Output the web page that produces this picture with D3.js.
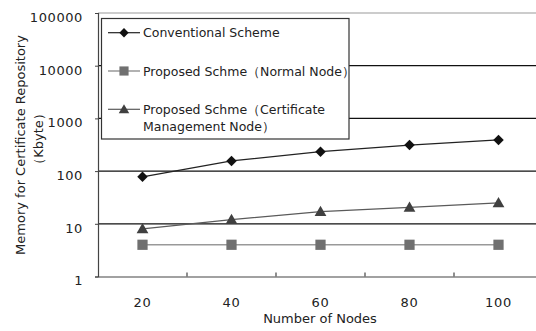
<!DOCTYPE html>
<html><head><meta charset="utf-8">
<script src="https://cdn.jsdelivr.net/npm/d3@7"></script>
<style>body{margin:0;background:#fff}svg{display:block}text{font-family:"DejaVu Sans",sans-serif;fill:#222}</style>
</head><body><svg id="c" width="536" height="331"></svg>
<script>
const categories = [20, 40, 60, 80, 100];
const conventional = [78, 156, 234, 312, 390];
const normalNode = [4, 4, 4, 4, 4];
const certNode = [8, 12, 17, 20.5, 25];
const yTicks = [1, 10, 100, 1000, 10000, 100000];
const seriesNames = ["Conventional Scheme", "Proposed Schme（Normal Node）", ["Proposed Schme（Certificate", "Management Node）"]];
const xTitle = "Number of Nodes";
const yTitle = ["Memory for Certificate Repository", "（Kbyte）"];

const svg = d3.select("#c");
const L = 98, T = 13, B = 276.5, band = 89;
const x = d3.scaleBand().domain(categories).range([L, L + band * categories.length]).padding(0);
const y = d3.scaleLog().domain([1, 100000]).range([B, T]);

// gridlines
svg.append("g").selectAll("line").data(yTicks.slice(1)).join("line")
  .attr("x1", L).attr("x2", x.range()[1])
  .attr("y1", d => y(d)).attr("y2", d => y(d))
  .attr("stroke", d => d === 100000 ? "#999" : "#111").attr("stroke-width", 1.2);

// y axis
const ya = svg.append("g").attr("transform", `translate(${L},0)`)
  .call(d3.axisLeft(y).tickValues(yTicks).tickFormat(d3.format("d")).tickSize(3).tickPadding(12));
ya.select(".domain").attr("stroke", "#444").attr("stroke-width", 1.2);
ya.selectAll(".tick line").attr("stroke", "#444");
ya.selectAll("text").attr("font-size", "13px").attr("letter-spacing", "0.6px").attr("fill", "#222")
  .attr("font-family", "DejaVu Sans").attr("dy", "0.65em");

// x axis
const xa = svg.append("g").attr("transform", `translate(0,${B})`)
  .call(d3.axisBottom(x).tickSize(0).tickPadding(21));
xa.select(".domain").attr("stroke", "#444").attr("stroke-width", 1.2);
xa.selectAll("text").attr("font-size", "13px").attr("letter-spacing", "0.8px").attr("fill", "#222").attr("font-family", "DejaVu Sans");
// inward ticks at band boundaries
svg.append("g").selectAll("line").data(categories.slice(1)).join("line")
  .attr("x1", d => x(d)).attr("x2", d => x(d)).attr("y1", B).attr("y2", B - 4)
  .attr("stroke", "#444").attr("stroke-width", 1.2);

// titles
svg.append("text").attr("x", 320).attr("y", 323).attr("text-anchor", "middle").attr("font-size", "13px").text(xTitle);
svg.append("text").attr("transform", "translate(25,145) rotate(-90)").attr("text-anchor", "middle").attr("font-size", "13px").text(yTitle[0]);
svg.append("text").attr("transform", "translate(43,139) rotate(-90)").attr("text-anchor", "middle").attr("font-size", "13px").text(yTitle[1]);

const cx = d => x(d) + x.bandwidth() / 2;
const series = [
  {vals: conventional, line: "#222", fill: "#111", sym: d3.symbolDiamond2, size: 70, w: 1.2},
  {vals: normalNode, line: "#999", fill: "#707070", sym: d3.symbolSquare, size: 105, w: 1.5},
  {vals: certNode, line: "#5a5a5a", fill: "#404040", sym: d3.symbolTriangle, size: 60, w: 1.2}
];
const lineGen = d3.line().x((d, i) => cx(categories[i])).y(d => y(d));
series.forEach(s => {
  svg.append("path").datum(s.vals).attr("d", lineGen).attr("fill", "none").attr("stroke", s.line).attr("stroke-width", s.w);
});
series.forEach(s => {
  svg.append("g").selectAll("path").data(s.vals).join("path")
    .attr("transform", (d, i) => `translate(${cx(categories[i])},${y(d) + (s.sym === d3.symbolTriangle ? 1 : 0)})`)
    .attr("d", d3.symbol().type(s.sym).size(s.size)).attr("fill", s.fill);
});

// legend
const lg = svg.append("g");
lg.append("rect").attr("x", 101.5).attr("y", 18.5).attr("width", 247.5).attr("height", 120.5)
  .attr("fill", "#fff").attr("stroke", "#333").attr("stroke-width", 1.2);
const rows = [32.7, 71, 109.3];
series.forEach((s, i) => {
  const yy = rows[i];
  lg.append("line").attr("x1", 108).attr("x2", 140).attr("y1", yy).attr("y2", yy).attr("stroke", s.line).attr("stroke-width", s.w);
  lg.append("path").attr("transform", `translate(124,${yy + (s.sym === d3.symbolTriangle ? 1 : 0)})`)
    .attr("d", d3.symbol().type(s.sym).size(s.size * 0.8)).attr("fill", s.fill);
  const nm = seriesNames[i];
  const lines = Array.isArray(nm) ? nm : [nm];
  lines.forEach((t, j) => {
    lg.append("text").attr("x", 143).attr("y", yy + 4.5 + j * 17.4).attr("font-size", "12.5px").text(t);
  });
});
</script></body></html>
